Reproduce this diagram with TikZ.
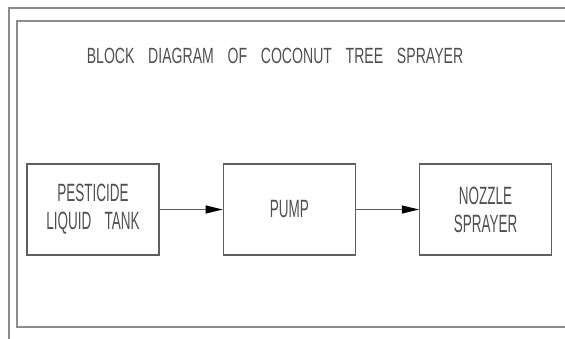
\documentclass[tikz,border=0pt]{standalone}
\usepackage{fontspec}
\usepackage{tikz}
\usetikzlibrary{arrows.meta,positioning}
\definecolor{frameGray}{RGB}{140,140,140}
\definecolor{lineGray}{RGB}{95,95,95}
\definecolor{textGray}{RGB}{80,80,80}
\newfontfamily\titlefont[FakeStretch=0.64,WordSpace=3.5]{Liberation Sans}
\newfontfamily\blockfont[FakeStretch=0.54,WordSpace=3.5]{Liberation Sans}

\begin{document}
\begin{tikzpicture}[x=1pt,y=-1pt,
    block/.style={draw=lineGray,line width=1.3pt,minimum width=132pt,minimum height=91pt,
      align=center,text=textGray,font=\blockfont\fontsize{25}{28}\selectfont},
    flow/.style={draw=lineGray,line width=1.1pt,-{Triangle[length=17pt,width=8pt,color=black]}}]
  \useasboundingbox (0,0) rectangle (565,338);
  % drawing frame
  \draw[frameGray,line width=1.8pt] (9,345) -- (9,8) -- (570,8);
  \draw[frameGray,line width=1.8pt] (570,21) -- (17,21) -- (17,327) -- (570,327);
  \node[text=textGray,font=\titlefont\fontsize{22}{26}\selectfont] (title) at (275,56) {BLOCK DIAGRAM OF COCONUT TREE SPRAYER};
  % blocks
  \node[block] (tank) at (93,209.5) {PESTICIDE\\LIQUID TANK};
  \node[block,right=63pt of tank] (pump) {PUMP};
  \node[block,right=63pt of pump] (nozzle) {NOZZLE\\SPRAYER};
  \draw[flow] (tank) -- (pump);
  \draw[flow] (pump) -- (nozzle);
\end{tikzpicture}
\end{document}
